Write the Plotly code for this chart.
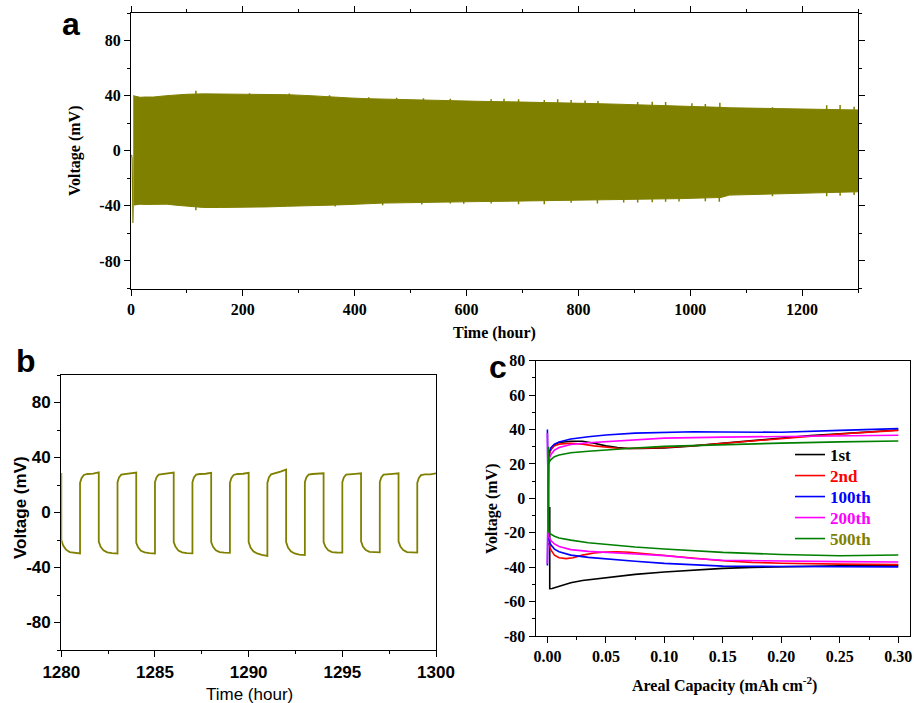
import plotly.graph_objects as go

# ---------------- Panel a data (envelope of the long cycling test) ----------------
a_t_env = [4, 10, 16, 25, 40, 64, 80, 100, 130, 160, 200, 240, 280, 320, 356, 392, 422, 450, 481, 520,
           541, 571, 620, 680, 740, 810, 870, 940, 989, 1030, 1055, 1070, 1109, 1150, 1190, 1228, 1270, 1300]
a_upper = [40, 39.5, 38.8, 39, 39, 40, 40.5, 41, 41.3, 41.2, 40.8, 40.7, 40.7, 40, 39, 38.3, 37.8, 37.5, 37.3, 37,
           36.8, 36.1, 35.9, 35.5, 35.2, 34.4, 33.8, 33.1, 32.5, 32.0, 31.5, 31.2, 30.8, 30.5, 30.3, 30.1, 29.8, 29.6]
a_lower = [-39.5, -39, -38.8, -39, -38.8, -38.8, -39.5, -40.2, -41.2, -41.2, -41.2, -40.8, -40.3, -39.6, -39.5, -39,
           -38.3, -38, -37.8, -37.7, -37.6, -37.1, -36.9, -36.6, -36.3, -35.9, -35.5, -35, -34.7, -34.2, -33.9,
           -32.2, -31.8, -31.3, -31, -30.5, -30.1, -29.8]
a_spk_up_t = [116, 212, 283, 355, 425, 475, 523, 571, 644, 667, 693, 739, 763, 787, 812, 835, 906, 932, 956,
              1003, 1027, 1053, 1147, 1244, 1268, 1293]
a_spk_up_v = [43.6, 41.8, 41.5, 40.2, 38.8, 38.5, 38.2, 37.8, 37.3, 37.8, 37.3, 36.8, 37.3, 36.8, 36.4, 36.1,
              35.4, 35.6, 35.4, 34.4, 33.9, 34.9, 31.5, 33, 33.2, 32]
a_spk_lo_t = [116, 365, 450, 520, 571, 595, 644, 693, 739, 787, 834, 881, 906, 932, 956, 980, 1027, 1052,
              1147, 1244, 1268, 1293]
a_spk_lo_v = [-43.2, -40.5, -39.5, -39, -38.3, -38.5, -38.3, -38.8, -38.8, -37.8, -38.3, -37.5, -37.5, -37.3,
              -37.1, -36.8, -36.6, -37.1, -33, -33, -32.6, -32.2]
a_init_t = [1, 2, 2.8, 3.4, 4]
a_init_v = [-3, -6, -30, -52.5, -40]
a_xticks = [0, 200, 400, 600, 800, 1000, 1200]
a_yticks = [-80, -40, 0, 40, 80]
a_yticktext = ["-80", "-40", "0", "40", "80"]

# ---------------- Panel b data (last 20 hours) ----------------
b_time = [1280, 1280, 1280.1, 1280.25, 1280.45, 1280.7, 1281,
          1281, 1281.08, 1281.2, 1281.4, 1281.7, 1282,
          1282, 1282.1, 1282.25, 1282.45, 1282.7, 1283,
          1283, 1283.08, 1283.2, 1283.4, 1283.7, 1284,
          1284, 1284.1, 1284.25, 1284.45, 1284.7, 1285,
          1285, 1285.08, 1285.2, 1285.4, 1285.7, 1286,
          1286, 1286.1, 1286.25, 1286.45, 1286.7, 1287,
          1287, 1287.08, 1287.2, 1287.4, 1287.7, 1288,
          1288, 1288.1, 1288.25, 1288.45, 1288.7, 1289,
          1289, 1289.08, 1289.2, 1289.4, 1289.7, 1290,
          1290, 1290.1, 1290.25, 1290.45, 1290.7, 1291,
          1291, 1291.08, 1291.2, 1291.4, 1291.7, 1292,
          1292, 1292.1, 1292.25, 1292.45, 1292.7, 1293,
          1293, 1293.08, 1293.2, 1293.4, 1293.7, 1294,
          1294, 1294.1, 1294.25, 1294.45, 1294.7, 1295,
          1295, 1295.08, 1295.2, 1295.4, 1295.7, 1296,
          1296, 1296.1, 1296.25, 1296.45, 1296.7, 1297,
          1297, 1297.08, 1297.2, 1297.4, 1297.7, 1298,
          1298, 1298.1, 1298.25, 1298.45, 1298.7, 1299,
          1299, 1299.08, 1299.2, 1299.4, 1299.7, 1300]
b_volt = [28.8, -20, -24, -27, -28.8, -29.5, -29.8,
          21.5, 25, 27.3, 28, 28.3, 29.2,
          -21.2, -25, -27.5, -29, -29.6, -29.8,
          22, 25.5, 27.5, 28, 28.3, 29,
          -22, -25.3, -27.8, -29, -29.6, -29.8,
          22, 25.5, 27.5, 28, 28.3, 29,
          -21.5, -25, -27.6, -29, -29.5, -29.7,
          22, 25.5, 27.5, 28, 28.2, 28.8,
          -21.5, -25, -27.5, -28.8, -29.2, -29.3,
          21.5, 25.2, 27.3, 28, 28.2, 28.8,
          -21.5, -25.5, -28.2, -29.8, -30.8, -31.5,
          21.5, 25.5, 27.8, 28.8, 29.8, 31.2,
          -21.5, -25.5, -28.2, -29.8, -30.6, -31,
          22, 25.5, 27.5, 28, 28.2, 28.5,
          -21.5, -25, -27.5, -28.8, -29.1, -29.2,
          22, 25.5, 27.5, 27.9, 28.1, 28.5,
          -21, -24.8, -27.3, -28.6, -28.9, -29,
          22, 25.5, 27.5, 27.9, 28.1, 28.5,
          -21, -24.8, -27.3, -28.8, -29.1, -29.2,
          21.5, 25, 27.2, 27.8, 27.8, 28.5]
b_xticks = [1280, 1285, 1290, 1295, 1300]
b_yticks = [-80, -40, 0, 40, 80]
b_yticktext = ["-80", "-40", "0", "40", "80"]

# ---------------- Panel c data (voltage profiles) ----------------
c_names = ["1st", "2nd", "100th", "200th", "500th"]
c_line_colors = ["#000000", "#ff0000", "#0000ff", "#ff00ff", "#008000"]
c_text_colors = ["#000000", "#ff0000", "#0000ff", "#ff00ff", "#808000"]

c1_chg_x = [0.001, 0.002, 0.005, 0.01, 0.02, 0.03, 0.04, 0.05, 0.06, 0.07, 0.08, 0.10, 0.125, 0.15, 0.175, 0.20, 0.225, 0.25, 0.275, 0.30]
c1_chg_v = [20, 27, 30.5, 32.5, 33.2, 33.2, 32, 30.5, 29.5, 29, 29, 29.3, 30.5, 32, 33.8, 35.3, 36.5, 37.5, 38.5, 39.7]
c1_dis_x = [0.002, 0.002, 0.004, 0.01, 0.02, 0.03, 0.05, 0.075, 0.10, 0.125, 0.15, 0.175, 0.20, 0.25, 0.30]
c1_dis_v = [-5, -52.5, -52.4, -51, -49, -47.7, -46, -44.2, -42.8, -41.6, -40.7, -40.1, -39.7, -39.2, -38.9]

c2_chg_x = [0.001, 0.003, 0.006, 0.01, 0.02, 0.03, 0.04, 0.05, 0.06, 0.07, 0.08, 0.10, 0.125, 0.15, 0.175, 0.20, 0.225, 0.25, 0.275, 0.30]
c2_chg_v = [25, 28.5, 30.5, 31.5, 32, 31.5, 30.5, 29.6, 29.1, 29, 29.1, 29.6, 30.6, 32, 33.5, 35, 36.3, 37.4, 38.5, 39.5]
c2_dis_x = [0.001, 0.003, 0.006, 0.01, 0.016, 0.022, 0.03, 0.04, 0.05, 0.06, 0.07, 0.085, 0.10, 0.125, 0.15, 0.175, 0.20, 0.25, 0.30]
c2_dis_v = [-26, -30, -33, -34.5, -35, -34.5, -33, -31.8, -31.2, -31, -31.3, -32.3, -33.3, -35, -36.3, -37.2, -37.7, -38.2, -38.5]

c100_chg_x = [0, 0.001, 0.003, 0.006, 0.01, 0.02, 0.035, 0.05, 0.075, 0.10, 0.125, 0.15, 0.175, 0.20, 0.25, 0.30]
c100_chg_v = [-39, 26, 29.5, 31.5, 32.8, 34.5, 35.8, 36.8, 37.9, 38.5, 38.7, 38.6, 38.3, 38.4, 39.5, 40.5]
c100_dis_x = [0, 0.001, 0.003, 0.006, 0.01, 0.02, 0.035, 0.05, 0.075, 0.10, 0.125, 0.15, 0.20, 0.25, 0.30]
c100_dis_v = [40, -24, -27, -29.5, -31, -33, -34.3, -35.3, -36.6, -37.8, -38.8, -39.4, -39.6, -39.7, -39.8]

c200_chg_x = [0, 0.001, 0.003, 0.006, 0.01, 0.02, 0.035, 0.05, 0.075, 0.10, 0.15, 0.20, 0.25, 0.30]
c200_chg_v = [-38, 22, 25.5, 28, 29.5, 31.3, 32.3, 33, 34.2, 35, 35.6, 36, 36.4, 36.7]
c200_dis_x = [0, 0.001, 0.003, 0.006, 0.01, 0.02, 0.035, 0.05, 0.075, 0.10, 0.125, 0.15, 0.20, 0.25, 0.30]
c200_dis_v = [38, -22, -24.5, -26.5, -28, -29.8, -30.8, -31.5, -32.3, -33.3, -35, -36, -36.5, -36.8, -37]

c500_chg_x = [0.001, 0.001, 0.003, 0.006, 0.01, 0.02, 0.035, 0.05, 0.075, 0.10, 0.15, 0.20, 0.25, 0.30]
c500_chg_v = [-5, 20.5, 22.5, 24.2, 25.2, 26.5, 27.4, 28.2, 29.3, 30.2, 31.3, 32.1, 32.8, 33.3]
c500_dis_x = [0.001, 0.001, 0.003, 0.006, 0.01, 0.02, 0.035, 0.05, 0.075, 0.10, 0.15, 0.20, 0.25, 0.30]
c500_dis_v = [30, -19.5, -20.8, -22, -23, -24.3, -25.8, -26.9, -28.3, -29.4, -31.4, -32.6, -33.4, -32.9]

c_xticks = [0.00, 0.05, 0.10, 0.15, 0.20, 0.25, 0.30]
c_xticktext = ["0.00", "0.05", "0.10", "0.15", "0.20", "0.25", "0.30"]
c_yticks = [-80, -60, -40, -20, 0, 20, 40, 60, 80]
c_yticktext = ["-80", "-60", "-40", "-20", "0", "20", "40", "60", "80"]

OLIVE = "#808000"
SERIF = "Liberation Serif, Times New Roman, serif"
SANS = "Liberation Sans, Arial, sans-serif"
W, H = 914, 703

fig = go.Figure()

# ---- panel a traces
fig.add_trace(go.Scatter(x=a_t_env, y=a_upper, mode="lines", line=dict(color=OLIVE, width=1),
                         xaxis="x", yaxis="y", showlegend=False, hoverinfo="skip"))
fig.add_trace(go.Scatter(x=a_t_env, y=a_lower, mode="lines", line=dict(color=OLIVE, width=1),
                         fill="tonexty", fillcolor=OLIVE, xaxis="x", yaxis="y", showlegend=False))
spx, spy = [], []
for t, v in zip(a_spk_up_t, a_spk_up_v):
    spx += [t, t, None]
    spy += [v, 0, None]
for t, v in zip(a_spk_lo_t, a_spk_lo_v):
    spx += [t, t, None]
    spy += [v, 0, None]
fig.add_trace(go.Scatter(x=spx, y=spy, mode="lines", line=dict(color=OLIVE, width=1.5),
                         xaxis="x", yaxis="y", showlegend=False))
fig.add_trace(go.Scatter(x=a_init_t, y=a_init_v, mode="lines", line=dict(color=OLIVE, width=1.2),
                         xaxis="x", yaxis="y", showlegend=False))

# ---- panel b trace
fig.add_trace(go.Scatter(x=b_time, y=b_volt, mode="lines", line=dict(color=OLIVE, width=1.8),
                         xaxis="x2", yaxis="y2", showlegend=False))

# ---- panel c traces (one legend per row for exact spacing)
c_sets = [(c1_chg_x, c1_chg_v, c1_dis_x, c1_dis_v),
          (c2_chg_x, c2_chg_v, c2_dis_x, c2_dis_v),
          (c100_chg_x, c100_chg_v, c100_dis_x, c100_dis_v),
          (c200_chg_x, c200_chg_v, c200_dis_x, c200_dis_v),
          (c500_chg_x, c500_chg_v, c500_dis_x, c500_dis_v)]
legend_ids = ["legend", "legend2", "legend3", "legend4", "legend5"]
for name, lc, tc, s, lid in zip(c_names, c_line_colors, c_text_colors, c_sets, legend_ids):
    cx, cv, dx, dv = s
    label = "<span style='color:%s'>%s</span>" % (tc, name)
    fig.add_trace(go.Scatter(x=cx, y=cv, mode="lines", line=dict(color=lc, width=1.6),
                             xaxis="x3", yaxis="y3", name=label, legendgroup=name, showlegend=True,
                             legend=lid))
    fig.add_trace(go.Scatter(x=dx, y=dv, mode="lines", line=dict(color=lc, width=1.6),
                             xaxis="x3", yaxis="y3", name=label, legendgroup=name, showlegend=False,
                             legend=lid))

def px_x(p):
    return p / W

def px_y(p):
    return 1 - p / H

axis_common = dict(showline=True, linecolor="black", linewidth=1.3, ticks="outside", ticklen=6,
                   tickwidth=1.2, tickcolor="black", showgrid=False, zeroline=False, automargin=False)

serif_tick = dict(family=SERIF, size=16, color="black", weight="bold")
sans_tick = dict(family=SANS, size=17, color="black", weight="bold")

legend_rows = [455, 476, 497, 518, 539]
legend_layout = {}
for lid, row in zip(legend_ids, legend_rows):
    legend_layout[lid] = dict(x=px_x(790), y=px_y(row), xanchor="left", yanchor="middle",
                              font=dict(family=SERIF, size=17, color="black", weight="bold"),
                              bgcolor="rgba(0,0,0,0)", borderwidth=0, itemwidth=30)

fig.update_layout(
    width=W, height=H, margin=dict(l=0, r=0, t=0, b=0, autoexpand=False),
    paper_bgcolor="white", plot_bgcolor="white",
    xaxis=dict(**axis_common, domain=[px_x(131), px_x(858)], range=[0, 1300], mirror="allticks",
               tickvals=a_xticks, tickfont=serif_tick, anchor="y",
               minor=dict(dtick=100, ticklen=3, tickcolor="black", ticks="outside")),
    yaxis=dict(**axis_common, domain=[px_y(288.5), px_y(13)], range=[-100, 100], mirror="allticks",
               tickvals=a_yticks, ticktext=a_yticktext, tickfont=serif_tick, anchor="x",
               minor=dict(tickvals=[-100, -60, -20, 20, 60, 100], ticklen=3, tickcolor="black", ticks="outside")),
    xaxis2=dict(**axis_common, domain=[px_x(61.3), px_x(436)], range=[1280, 1300], mirror=True,
                tickvals=b_xticks, tickfont=sans_tick, anchor="y2",
                minor=dict(dtick=2.5, ticklen=3, tickcolor="black", ticks="outside")),
    yaxis2=dict(**axis_common, domain=[px_y(650), px_y(375)], range=[-100, 100], mirror=True,
                tickvals=b_yticks, ticktext=b_yticktext, tickfont=sans_tick, anchor="x2",
                minor=dict(tickvals=[-100, -60, -20, 20, 60, 100], ticklen=3, tickcolor="black", ticks="outside")),
    xaxis3=dict(**axis_common, domain=[px_x(535.7), px_x(910)], range=[-0.01, 0.31], mirror=True,
                tickvals=c_xticks, ticktext=c_xticktext, tickfont=serif_tick, anchor="y3",
                minor=dict(dtick=0.025, tick0=0, ticklen=3, tickcolor="black", ticks="outside")),
    yaxis3=dict(**axis_common, domain=[px_y(636), px_y(360.7)], range=[-80, 80], mirror=True,
                tickvals=c_yticks, ticktext=c_yticktext, tickfont=serif_tick, anchor="x3",
                minor=dict(dtick=10, tick0=0, ticklen=3, tickcolor="black", ticks="outside")),
    **legend_layout,
)

ann = []
def add_text(text, x, y, family, size, bold=True, angle=0):
    ann.append(dict(text=text, x=px_x(x), y=px_y(y), xref="paper", yref="paper",
                    xanchor="center", yanchor="middle", showarrow=False, textangle=angle,
                    font=dict(family=family, size=size, color="black", weight="bold" if bold else "normal")))

add_text("a", 71, 24, SANS, 32)
add_text("b", 26, 361, SANS, 32)
add_text("c", 498, 367, SANS, 32)
add_text("Voltage (mV)", 75, 151, SERIF, 16, angle=-90)
add_text("Time (hour)", 494, 333, SERIF, 16)
add_text("Voltage (mV)", 20, 508, SANS, 17, angle=-90)
add_text("Time (hour)", 249, 694, SANS, 17, bold=False)
add_text("Voltage (mV)", 492, 509, SERIF, 16, angle=-90)
add_text("Areal Capacity (mAh cm<sup>-2</sup>)", 724, 684, SERIF, 16)
fig.update_layout(annotations=ann)

fig.write_html("out.html")
